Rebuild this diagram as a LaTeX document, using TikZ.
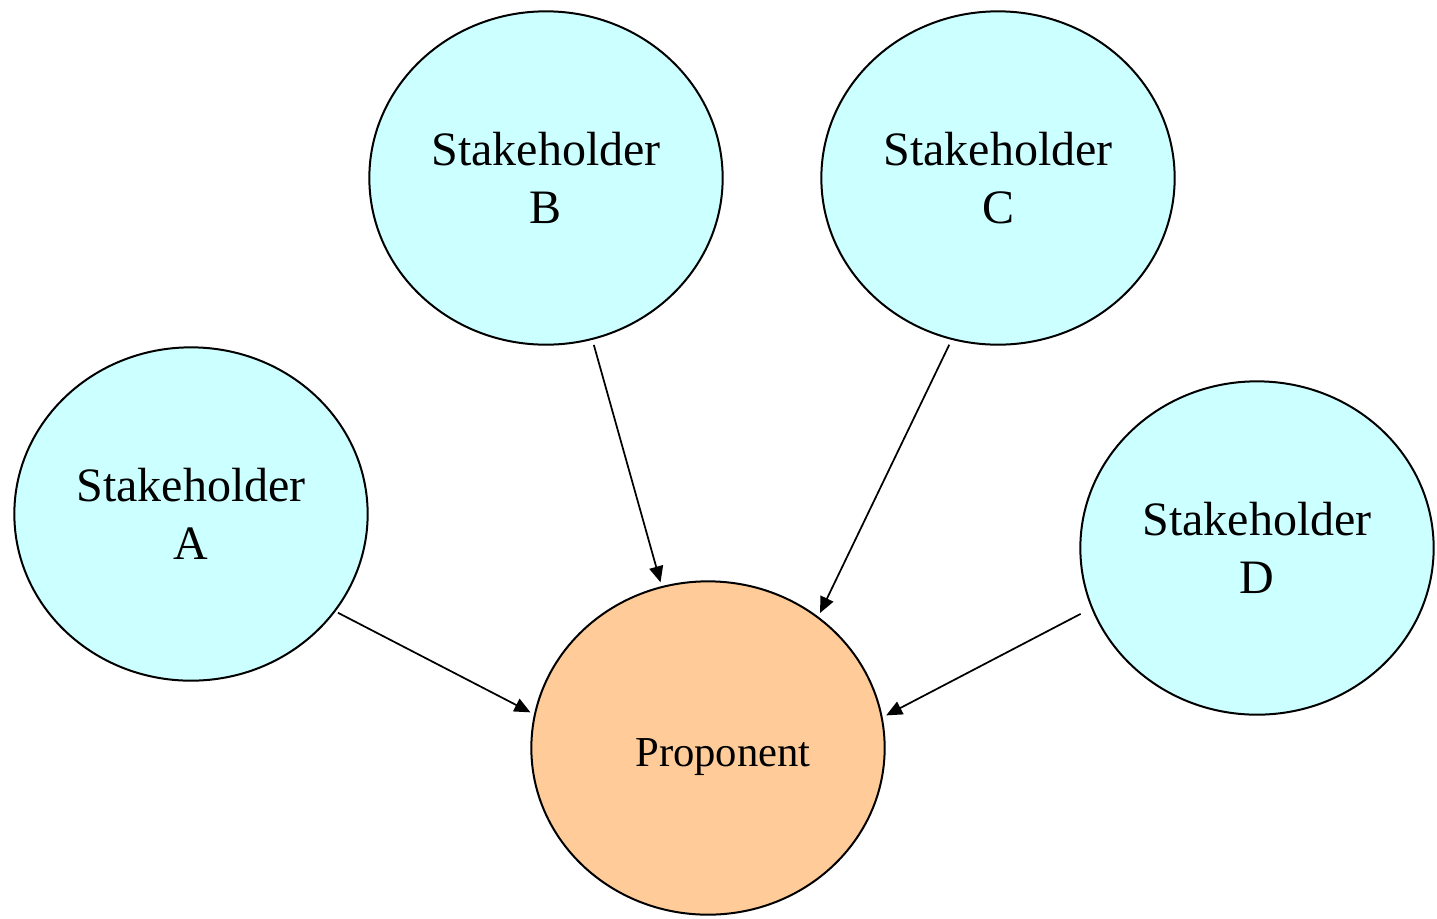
\documentclass[tikz,border=0pt]{standalone}
\usepackage{fontspec}
\setmainfont{Liberation Serif}
\usetikzlibrary{shapes.geometric,arrows.meta}
\definecolor{stakefill}{HTML}{CCFFFF}
\definecolor{propfill}{HTML}{FFCC99}
\begin{document}
\begin{tikzpicture}[x=0.75pt,y=-0.75pt,
  bubble/.style={ellipse,draw=black,line width=1.5pt,
    minimum width=265pt,minimum height=250pt,inner sep=0pt,align=center},
  stake/.style={bubble,fill=stakefill,
    font=\fontsize{36pt}{43.5pt}\selectfont},
  prop/.style={bubble,fill=propfill,font=\fontsize{32pt}{38pt}\selectfont},
  link/.style={line width=1.3pt,-{Triangle[length=12pt,width=10.5pt]},
    shorten >=3pt}]
  \useasboundingbox (0,0) rectangle (1437,918);
  % stakeholders and proponent
  \node[stake] (A) at (191,514) {Stakeholder\\A};
  \node[stake] (B) at (546,178) {Stakeholder\\B};
  \node[stake] (C) at (998,178) {Stakeholder\\C};
  \node[stake] (D) at (1257,548) {Stakeholder\\D};
  \node[prop]  (P) at (708,748)
    {\hspace*{22.5pt}\raisebox{-7pt}[\height][\depth]{Proponent}};
  % influence arrows
  \draw[link,shorten <=4pt] (B.-74) -- (P.106);
  \draw[link,shorten <=4pt] (C.-106) -- (P.50);
  \draw[link,shorten <=2pt] (A.-34.7) -- (P.169.8);
  \draw[link,shorten <=9pt] (D.200.6) -- (P.10.8);
\end{tikzpicture}
\end{document}
